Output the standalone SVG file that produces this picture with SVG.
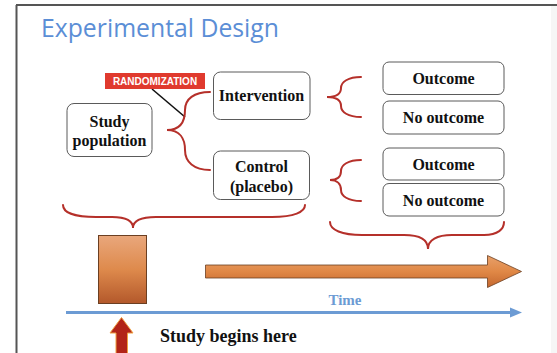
<svg xmlns="http://www.w3.org/2000/svg" width="557" height="353" viewBox="0 0 557 353">
  <defs>
    <style>
      .box { fill: #ffffff; stroke: #5a5a5a; stroke-width: 1; }
      .lbl { font-family: "Liberation Serif", "Times New Roman", serif; font-weight: bold; font-size: 16px; fill: #111111; text-anchor: middle; }
      .brace { fill: none; stroke: #b5302a; stroke-width: 2; stroke-linecap: round; }
    </style>
    <linearGradient id="orangeV" x1="0" y1="0" x2="0" y2="1">
      <stop offset="0" stop-color="#e9a77c"/>
      <stop offset="0.5" stop-color="#de8a4c"/>
      <stop offset="1" stop-color="#b3582b"/>
    </linearGradient>
    <linearGradient id="orangeA" x1="0" y1="0" x2="0" y2="1">
      <stop offset="0" stop-color="#e8a06a"/>
      <stop offset="0.5" stop-color="#e08846"/>
      <stop offset="1" stop-color="#c4672f"/>
    </linearGradient>
  </defs>

  <rect x="0" y="0" width="557" height="353" fill="#ffffff"/>
  <rect x="551" y="6" width="6" height="347" fill="#f6f6f6"/>
  <!-- slide frame -->
  <line x1="16.5" y1="5" x2="16.5" y2="353" stroke="#555555" stroke-width="2"/>
  <line x1="16" y1="5" x2="557" y2="5" stroke="#555555" stroke-width="2"/>

  <text x="41" y="37" font-family="'Open Sans', 'Liberation Sans', sans-serif" font-size="25" fill="#5b8ed6" textLength="238" lengthAdjust="spacingAndGlyphs">Experimental Design</text>

  <g id="connectors">
    <line x1="152" y1="89" x2="185" y2="117" stroke="#111111" stroke-width="1.6"/>
    <path class="brace" d="M210 92 C194 92 185 99 185 110 C185 122 180 130 167 130 C180 130 185 139 185 150 C185 162 194 170 210 170"/>
    <path class="brace" d="M361 77 C348 77 341 82 341 88 C341 94 336 97 327 97 C336 97 341 100 341 106 C341 112 348 117 361 117"/>
    <path class="brace" d="M361 160 C348 160 341 165 341 171 C341 177 337 180 330 180 C337 180 341 184 341 190 C341 196 348 201 361 201"/>
    <path class="brace" d="M63 205 C63 213 76 217 96 217 L112 217 C126 217 133 221 133 228 C133 221 141 217 156 217 L272 217 C294 217 305 212 305 205"/>
    <path class="brace" d="M330 222 C330 230 342 235 362 235 L404 235 C420 235 428 240 428 249 C428 240 437 235 452 235 L484 235 C498 235 504 229 504 222"/>
  </g>

  <g id="randomization">
    <rect x="105" y="73" width="100" height="16" fill="#e03a2e"/>
    <text x="155" y="84.5" font-family="'Liberation Sans', Arial, sans-serif" font-weight="bold" font-size="10" fill="#ffffff" text-anchor="middle">RANDOMIZATION</text>
  </g>

  <g id="study-population">
    <rect class="box" x="67" y="103.5" width="85" height="53" rx="7"/>
    <text class="lbl" x="109.5" y="127">Study</text>
    <text class="lbl" x="109.5" y="145.5">population</text>
  </g>

  <g id="intervention">
    <rect class="box" x="213.5" y="72" width="96.5" height="47.5" rx="7"/>
    <text class="lbl" x="261.5" y="101">Intervention</text>
  </g>

  <g id="control">
    <rect class="box" x="213.5" y="151" width="96" height="48.5" rx="7"/>
    <text class="lbl" x="261.5" y="172">Control</text>
    <text class="lbl" x="261.5" y="192">(placebo)</text>
  </g>

  <g id="outcome-1">
    <rect class="box" x="383" y="62" width="121" height="32.5" rx="6"/>
    <text class="lbl" x="443.5" y="83.5">Outcome</text>
  </g>
  <g id="no-outcome-1">
    <rect class="box" x="383" y="101" width="121" height="33" rx="6"/>
    <text class="lbl" x="443.5" y="123">No outcome</text>
  </g>
  <g id="outcome-2">
    <rect class="box" x="383" y="148" width="121" height="32" rx="6"/>
    <text class="lbl" x="443.5" y="170">Outcome</text>
  </g>
  <g id="no-outcome-2">
    <rect class="box" x="383" y="183.5" width="121" height="32.5" rx="6"/>
    <text class="lbl" x="443.5" y="206">No outcome</text>
  </g>

  <g id="start-block">
    <rect x="98.5" y="235.5" width="48" height="68" fill="url(#orangeV)" stroke="#6b3f22" stroke-width="1"/>
  </g>

  <g id="followup-arrow">
    <polygon points="205.5,265 487.5,265 487.5,255.5 521.5,271.5 487.5,287.5 487.5,278 205.5,278" fill="url(#orangeA)" stroke="#6b3f22" stroke-width="0.8"/>
  </g>

  <g id="time-axis">
    <line x1="66" y1="312.5" x2="512" y2="312.5" stroke="#6c9bd4" stroke-width="3"/>
    <polygon points="510,307.5 522,312.5 510,317.5" fill="#6c9bd4"/>
    <text x="345" y="305" font-family="'Liberation Serif', 'Times New Roman', serif" font-weight="bold" font-size="15" fill="#6c9bd4" text-anchor="middle">Time</text>
  </g>

  <g id="study-begins">
    <polygon points="121.5,317.5 133,333 127.5,333 127.5,354 116,354 116,333 110,333" fill="#b22418" stroke="#f0a040" stroke-width="1"/>
    <text x="160" y="342" font-family="'Liberation Serif', 'Times New Roman', serif" font-weight="bold" font-size="18" fill="#111111">Study begins here</text>
  </g>
</svg>
